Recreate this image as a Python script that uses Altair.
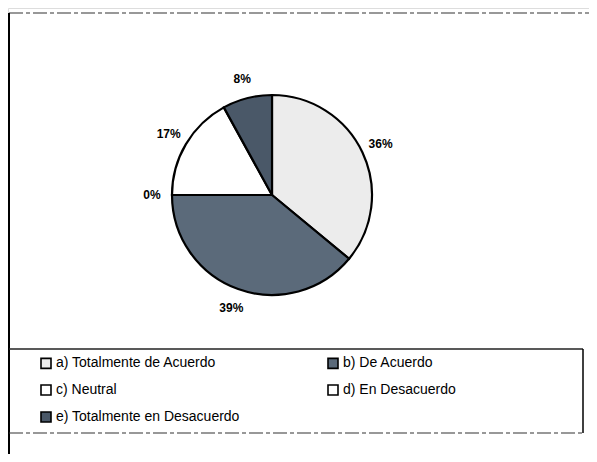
import altair as alt
import pandas as pd

categories = ["a) Totalmente de Acuerdo", "b) De Acuerdo", "c) Neutral",
              "d) En Desacuerdo", "e) Totalmente en Desacuerdo"]
values = [36, 39, 0, 17, 8]
labels = ["36%", "39%", "0%", "17%", "8%"]
colors = ["#ececec", "#5b6a7a", "#ffffff", "#ffffff", "#4a5868"]

# legend is laid out column-major, so list the entries so rows read a,b / c,d / e
legend_order = [0, 2, 4, 1, 3]
leg_domain = [categories[i] for i in legend_order]
leg_range = [colors[i] for i in legend_order]

df = pd.DataFrame({"cat": categories, "val": values, "lab": labels,
                   "ord": list(range(len(categories)))})
one = pd.DataFrame({"k": [0]})

CX, CY = 264, 187

color = alt.Color("cat:N", scale=alt.Scale(domain=leg_domain, range=leg_range),
                  legend=alt.Legend(title=None, orient="none", legendX=31, legendY=348,
                                    columns=2, columnPadding=84, rowPadding=9,
                                    symbolType="square", symbolSize=100,
                                    symbolStrokeColor="black", symbolStrokeWidth=1.6,
                                    labelFont="Liberation Sans", labelFontSize=14,
                                    labelColor="black", labelOffset=3, labelLimit=300))

pie = alt.Chart(df).mark_arc(outerRadius=100, stroke="black", strokeWidth=2.2).encode(
    theta=alt.Theta("val:Q", stack=True),
    order=alt.Order("ord:Q"),
    color=color,
    x=alt.value(CX), y=alt.value(CY),
)

text = alt.Chart(df).mark_text(radius=120, font="Liberation Sans", fontSize=12,
                               fontWeight="bold", color="black").encode(
    theta=alt.Theta("val:Q", stack=True),
    order=alt.Order("ord:Q"),
    text="lab:N",
    x=alt.value(CX), y=alt.value(CY),
)

top_line = alt.Chart(one).mark_rule(color="#333", strokeWidth=1.2, strokeDash=[14, 3, 4, 3]).encode(
    x=alt.value(1), x2=alt.value(581), y=alt.value(5))
left_line = alt.Chart(one).mark_rule(color="black", strokeWidth=2).encode(
    x=alt.value(1), y=alt.value(5), y2=alt.value(446))
leg_top = alt.Chart(one).mark_rule(color="#222", strokeWidth=1.3).encode(
    x=alt.value(1), x2=alt.value(575), y=alt.value(341))
leg_bot = alt.Chart(one).mark_rule(color="#333", strokeWidth=1.2, strokeDash=[14, 3, 4, 3]).encode(
    x=alt.value(1), x2=alt.value(575), y=alt.value(425))
leg_right = alt.Chart(one).mark_rule(color="black", strokeWidth=1.5).encode(
    x=alt.value(575), y=alt.value(341), y2=alt.value(425))

chart = alt.layer(pie, text, top_line, left_line, leg_top, leg_bot, leg_right).properties(
    width=581, height=446, padding=0,
    autosize=alt.AutoSizeParams(type="none"),
).configure_view(strokeWidth=0).configure(background="white")

chart.save("out.html", embed_options={"renderer": "svg", "actions": False})
